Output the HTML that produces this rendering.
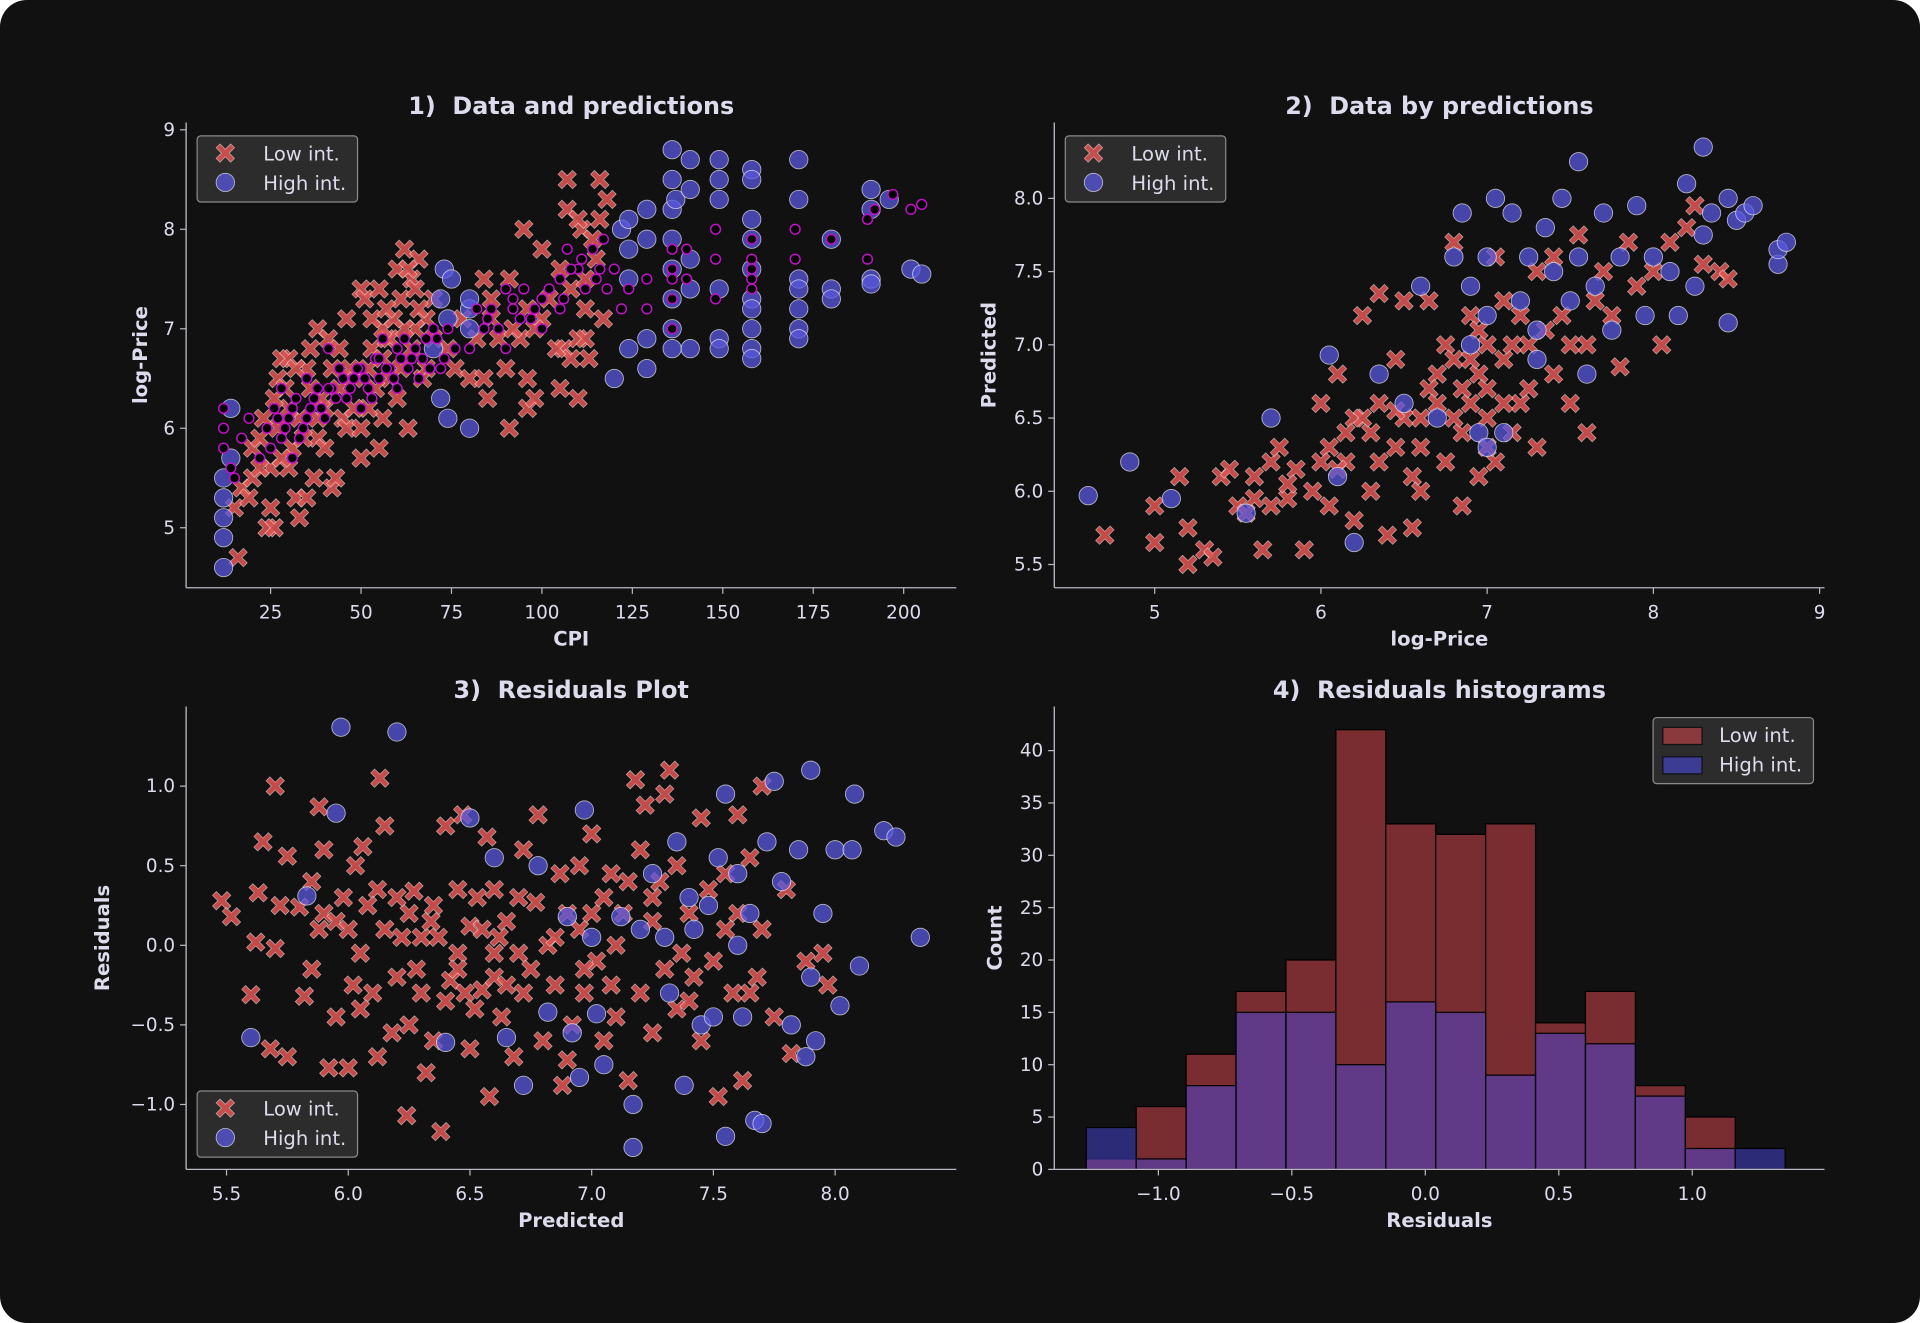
<!DOCTYPE html>
<html><head><meta charset="utf-8"><style>
html,body{margin:0;padding:0;background:#fff;}
svg{display:block;}
text{font-family:"DejaVu Sans","Liberation Sans",sans-serif;fill:#dcdcec;white-space:pre;}
</style></head><body>
<svg id="fig" width="1920" height="1323" viewBox="0 0 1568 1080.45" xmlns="http://www.w3.org/2000/svg">
<rect x="0" y="0" width="1568" height="1080.45" rx="22" fill="#111111"/>
<g id="root"></g>
</svg>
<script>
// ---------- data ----------
const p1Low=[[16,4.7],[15,5.2],[17,5.4],[20,5.5],[20,5.8],[22,5.9],[24,5.0],[26,5.0],[25,5.2],[25,5.6],[27,6.0],[27,6.5],[28,6.7],[30,6.7],[30,5.6],[32,5.3],[33,5.1],[35,5.3],[35,6.6],[36,6.8],[38,7.0],[37,5.5],[38,5.9],[40,6.2],[41,6.9],[42,5.4],[43,5.5],[44,6.4],[45,6.1],[46,7.1],[50,5.7],[50,7.4],[51,7.3],[53,6.8],[55,5.8],[55,7.4],[56,6.1],[57,6.9],[58,6.5],[60,7.6],[61,7.3],[62,7.8],[63,6.0],[64,7.5],[66,7.7],[67,6.5],[68,7.1],[70,6.9],[76,6.6],[80,6.5],[84,6.5],[85,6.3],[84,7.5],[86,7.3],[90,6.6],[91,7.5],[91,6.0],[95,8.0],[96,6.5],[96,6.2],[98,6.3],[100,7.8],[100,7.1],[105,6.4],[106,6.8],[107,8.5],[107,8.2],[108,6.7],[110,6.9],[110,6.3],[111,8.0],[112,7.2],[113,6.7],[116,8.5],[116,8.1],[117,7.1],[118,8.3],[114,7.9],[104,6.8],[112,6.9],[44,6.8],[48,6.5],[52,6.2],[58,6.9],[65,7.0],[39,6.3],[33,6.1],[29,6.4],[31,5.8],[23,6.1],[56,7.0],[61,6.6],[70,7.3],[88,6.9],[94,6.9],[102,7.3],[92,7.0],[74,6.8],[78,7.1],[28,5.7],[30,6.2],[34,5.9],[36,6.4],[40,5.8],[42,6.6],[46,6.0],[48,6.2],[52,6.6],[54,6.4],[56,6.7],[60,6.3],[62,7.0],[64,6.8],[66,7.2],[68,6.6],[63,7.6],[65,7.4],[59,7.1],[47,6.6],[26,6.3],[22,5.6],[19,5.3],[32,6.6],[38,6.1],[50,6.0],[53,7.1],[57,7.2],[105,7.6],[108,7.4],[112,7.5],[115,7.7],[98,7.0],[86,7.1],[82,6.9],[96,7.2],[110,8.1]];
const p1High=[[12,4.6],[12,4.9],[12,5.1],[12,5.3],[12,5.5],[14,5.7],[14,6.2],[72,6.3],[74,6.1],[73,7.6],[74,7.1],[72,7.3],[70,6.8],[75,7.5],[80,7.2],[80,7.0],[80,6.0],[80,7.3],[120,6.5],[122,8.0],[124,8.1],[124,7.8],[124,7.5],[124,6.8],[129,6.6],[129,6.9],[129,7.9],[129,8.2],[136,8.8],[136,8.5],[136,8.2],[136,7.9],[136,7.6],[136,7.3],[136,7.0],[136,6.8],[137,8.3],[141,8.7],[141,8.4],[141,7.7],[141,7.4],[141,6.8],[149,8.7],[149,8.5],[149,8.3],[149,7.4],[149,6.9],[149,6.8],[158,8.6],[158,8.5],[158,8.1],[158,7.9],[158,7.6],[158,7.3],[158,7.2],[158,7.0],[158,6.8],[158,6.7],[171,8.7],[171,8.3],[171,7.5],[171,7.4],[171,7.2],[171,7.0],[171,6.9],[180,7.9],[180,7.4],[180,7.3],[191,8.4],[191,8.2],[191,7.5],[191,7.45],[196,8.3],[202,7.6],[205,7.55]];
const p1Pred=[[12,5.8],[12,6.0],[12,6.2],[14,5.6],[15,5.5],[17,5.9],[19,6.1],[22,5.7],[24,6.0],[26,6.2],[28,5.9],[28,6.4],[30,6.1],[31,5.7],[32,6.3],[34,6.0],[35,6.5],[36,6.2],[38,6.4],[40,6.1],[41,6.8],[42,6.4],[44,6.6],[46,6.3],[48,6.5],[50,6.6],[50,6.2],[52,6.4],[54,6.7],[55,6.5],[56,6.9],[58,6.6],[60,6.8],[60,6.4],[62,6.9],[64,6.7],[66,6.5],[68,6.9],[70,7.0],[72,6.6],[74,7.0],[76,6.8],[80,6.8],[82,7.2],[84,7.0],[86,7.2],[90,7.4],[90,6.8],[92,7.2],[95,7.4],[97,7.1],[100,7.3],[100,7.0],[105,7.5],[105,7.2],[107,7.8],[110,7.6],[112,7.4],[114,7.8],[116,7.6],[118,7.4],[120,7.6],[122,7.2],[124,7.4],[129,7.5],[129,7.2],[136,7.6],[136,7.3],[136,7.0],[140,7.5],[140,7.8],[148,7.7],[148,7.3],[148,8.0],[158,7.9],[158,7.6],[158,7.4],[170,7.7],[170,8.0],[180,7.9],[190,8.1],[190,7.7],[192,8.2],[197,8.35],[202,8.2],[205,8.25],[25,5.8],[27,6.1],[29,6.0],[31,6.2],[33,5.9],[35,6.1],[37,6.3],[39,6.2],[41,6.4],[43,6.3],[45,6.5],[47,6.4],[49,6.6],[51,6.5],[53,6.3],[55,6.7],[57,6.6],[59,6.5],[61,6.7],[63,6.6],[65,6.8],[67,6.7],[69,6.6],[71,6.9],[73,6.7],[85,7.1],[88,7.0],[92,7.3],[94,7.1],[98,7.2],[102,7.4],[106,7.3],[108,7.6],[111,7.7],[115,7.5],[117,7.9],[136,7.5],[136,7.8],[158,7.7],[158,7.5]];
const p2Low=[[4.7,5.7],[5.0,5.9],[5.0,5.65],[5.15,6.1],[5.2,5.75],[5.2,5.5],[5.3,5.6],[5.35,5.55],[5.4,6.1],[5.45,6.15],[5.5,5.9],[5.55,5.85],[5.6,6.1],[5.65,5.6],[5.7,5.9],[5.7,6.2],[5.75,6.3],[5.8,5.95],[5.85,6.15],[5.9,5.6],[5.95,6.0],[6.0,6.6],[6.05,6.3],[6.05,5.9],[6.1,6.8],[6.15,6.2],[6.2,5.8],[6.2,6.5],[6.25,7.2],[6.3,6.4],[6.3,6.0],[6.35,6.6],[6.35,7.35],[6.4,5.7],[6.45,6.9],[6.45,6.3],[6.5,7.3],[6.55,6.1],[6.55,5.75],[6.6,6.5],[6.65,7.3],[6.7,6.8],[6.75,6.2],[6.75,7.0],[6.8,6.9],[6.8,7.7],[6.85,6.4],[6.85,5.9],[6.9,6.6],[6.9,7.2],[6.95,6.8],[7.0,6.5],[7.0,7.0],[7.05,7.6],[7.05,6.2],[7.1,6.9],[7.15,6.4],[7.2,7.2],[7.2,6.6],[7.25,7.0],[7.3,6.3],[7.3,7.5],[7.4,6.8],[7.45,7.2],[7.5,6.6],[7.55,7.75],[7.6,6.4],[7.6,7.0],[7.7,7.5],[7.75,7.2],[7.8,6.85],[7.85,7.7],[7.9,7.4],[8.0,7.5],[8.05,7.0],[8.1,7.7],[8.2,7.8],[8.25,7.95],[8.3,7.55],[8.4,7.5],[8.45,7.45],[6.6,6.0],[6.95,6.1],[7.4,7.6],[6.1,6.15],[6.25,6.5],[6.65,6.7],[7.0,6.7],[7.1,7.3],[5.6,5.95],[5.8,6.05],[6.0,6.2],[6.15,6.4],[6.35,6.2],[6.5,6.5],[6.6,6.3],[6.7,6.6],[6.8,6.5],[6.9,6.9],[7.0,6.3],[7.1,6.6],[7.15,7.0],[7.25,6.7],[7.35,7.1],[7.5,7.0],[7.65,7.3],[6.95,7.1],[6.85,6.7],[6.45,6.55]];
const p2High=[[4.6,5.97],[4.85,6.2],[5.1,5.95],[5.55,5.85],[5.7,6.5],[6.05,6.93],[6.1,6.1],[6.2,5.65],[6.35,6.8],[6.5,6.6],[6.6,7.4],[6.7,6.5],[6.8,7.6],[6.85,7.9],[6.9,7.0],[6.95,6.4],[7.0,7.6],[7.0,7.2],[7.05,8.0],[7.1,6.4],[7.15,7.9],[7.2,7.3],[7.25,7.6],[7.3,7.1],[7.3,6.9],[7.35,7.8],[7.4,7.5],[7.45,8.0],[7.5,7.3],[7.55,8.25],[7.55,7.6],[7.6,6.8],[7.65,7.4],[7.7,7.9],[7.75,7.1],[7.8,7.6],[7.9,7.95],[7.95,7.2],[8.0,7.6],[8.1,7.5],[8.15,7.2],[8.2,8.1],[8.25,7.4],[8.3,8.35],[8.3,7.75],[8.35,7.9],[8.45,8.0],[8.45,7.15],[8.5,7.85],[8.55,7.9],[8.6,7.95],[8.75,7.55],[8.75,7.65],[8.8,7.7],[7.0,6.3],[6.9,7.4]];
const p3Low=[[5.48,0.28],[5.52,0.18],[5.6,-0.31],[5.62,0.02],[5.63,0.33],[5.65,0.65],[5.68,-0.65],[5.7,1.0],[5.7,-0.02],[5.72,0.25],[5.75,0.56],[5.75,-0.7],[5.8,0.24],[5.82,-0.32],[5.85,0.4],[5.85,-0.15],[5.88,0.87],[5.9,0.6],[5.9,0.2],[5.92,-0.77],[5.95,0.15],[5.95,-0.45],[5.98,0.3],[6.0,0.1],[6.0,-0.77],[6.02,-0.25],[6.03,0.5],[6.05,-0.05],[6.06,0.62],[6.1,-0.3],[6.12,0.35],[6.12,-0.7],[6.13,1.05],[6.15,0.75],[6.15,0.1],[6.18,-0.55],[6.2,-0.2],[6.22,0.05],[6.24,-1.07],[6.25,-0.5],[6.27,0.34],[6.3,-0.3],[6.3,0.05],[6.32,-0.8],[6.34,0.15],[6.35,-0.6],[6.37,0.05],[6.38,-1.17],[6.4,0.75],[6.42,-0.22],[6.45,-0.05],[6.45,0.35],[6.47,0.82],[6.48,-0.3],[6.5,-0.65],[6.5,0.12],[6.53,0.3],[6.55,-0.28],[6.57,0.68],[6.58,-0.95],[6.6,-0.2],[6.6,0.35],[6.62,0.05],[6.63,-0.45],[6.65,-0.25],[6.68,-0.7],[6.7,0.3],[6.7,-0.05],[6.72,0.6],[6.75,-0.15],[6.77,0.27],[6.78,0.82],[6.8,-0.6],[6.82,0.0],[6.85,-0.25],[6.87,0.45],[6.88,-0.88],[6.9,0.2],[6.92,-0.5],[6.95,0.1],[6.95,0.5],[6.97,-0.3],[7.0,0.7],[7.0,0.2],[7.02,-0.1],[7.05,0.3],[7.05,-0.6],[7.08,0.45],[7.1,0.0],[7.1,-0.45],[7.13,0.2],[7.15,-0.85],[7.18,1.04],[7.2,0.6],[7.2,-0.3],[7.22,0.88],[7.25,0.15],[7.25,-0.55],[7.28,0.4],[7.3,-0.15],[7.3,0.95],[7.32,1.1],[7.35,0.5],[7.35,-0.4],[7.4,0.2],[7.42,-0.2],[7.45,0.8],[7.45,-0.6],[7.48,0.35],[7.5,-0.1],[7.52,-0.95],[7.55,0.45],[7.58,-0.3],[7.6,0.82],[7.6,0.2],[7.62,-0.85],[7.65,0.55],[7.68,-0.2],[7.7,1.0],[7.7,0.1],[7.75,-0.45],[7.8,0.35],[7.82,-0.68],[7.88,-0.1],[7.95,-0.05],[7.97,-0.25],[7.37,-0.05],[6.9,-0.72],[6.55,0.1],[6.25,0.2],[5.88,0.1],[6.08,0.25],[6.2,0.3],[6.35,0.25],[6.4,-0.35],[6.52,-0.4],[6.65,0.15],[6.72,-0.3],[6.85,0.05],[6.97,-0.15],[7.08,-0.25],[7.25,0.3],[7.4,-0.35],[7.55,0.1],[7.65,-0.3],[6.05,-0.4],[6.28,-0.15],[6.45,-0.15],[6.6,-0.05],[7.15,0.4]];
const p3High=[[5.6,-0.58],[5.83,0.31],[5.95,0.83],[5.97,1.37],[6.2,1.34],[6.4,-0.61],[6.5,0.8],[6.6,0.55],[6.65,-0.58],[6.72,-0.88],[6.78,0.5],[6.82,-0.42],[6.9,0.18],[6.92,-0.55],[6.95,-0.83],[6.97,0.85],[7.0,0.05],[7.02,-0.43],[7.05,-0.75],[7.12,0.18],[7.17,-1.0],[7.17,-1.27],[7.2,0.1],[7.25,0.45],[7.3,0.05],[7.32,-0.3],[7.35,0.65],[7.38,-0.88],[7.4,0.3],[7.42,0.1],[7.45,-0.5],[7.48,0.25],[7.5,-0.45],[7.52,0.55],[7.55,-1.2],[7.55,0.95],[7.6,0.45],[7.62,-0.45],[7.65,0.2],[7.67,-1.1],[7.7,-1.12],[7.72,0.65],[7.75,1.03],[7.78,0.4],[7.82,-0.5],[7.85,0.6],[7.88,-0.7],[7.9,1.1],[7.92,-0.6],[7.95,0.2],[8.0,0.6],[8.02,-0.38],[8.08,0.95],[8.1,-0.13],[8.2,0.72],[8.25,0.68],[8.35,0.05],[8.07,0.6],[7.9,-0.2],[7.6,0.0]];
const histEdges=[-1.27,-1.083,-0.896,-0.709,-0.522,-0.335,-0.148,0.039,0.226,0.413,0.6,0.787,0.974,1.161,1.348];
const histLow=[1,6,11,17,20,42,33,32,33,14,17,8,5,0];
const histHigh=[4,1,8,15,15,10,16,15,9,13,12,7,2,2];
const p1XTicks=[25,50,75,100,125,150,175,200], p1YTicks=[5,6,7,8,9];
const p2XTicks=[5,6,7,8,9], p2YTicks=[5.5,6.0,6.5,7.0,7.5,8.0];
const p3XTicks=[5.5,6.0,6.5,7.0,7.5,8.0], p3YTicks=[-1.0,-0.5,0.0,0.5,1.0];
const p4XTicks=[-1.0,-0.5,0.0,0.5,1.0], p4YTicks=[0,5,10,15,20,25,30,35,40];

// ---------- helpers ----------
const NS="http://www.w3.org/2000/svg";
const root=document.getElementById('root');
function mk(tag,attrs,parent){const e=document.createElementNS(NS,tag);for(const k in attrs)e.setAttribute(k,attrs[k]);(parent||root).appendChild(e);return e;}
function lin(d0,d1,r0,r1){return v=>r0+(v-d0)*(r1-r0)/(d1-d0);}
function fmt(v,dec){let s=v.toFixed(dec);if(v<0)s='\u2212'+s.slice(1);return s;}
function xPath(cx,cy,s){const a=s*0.42,b=s;return `M${cx-b},${cy-b+a}L${cx-a},${cy}L${cx-b},${cy+b-a}L${cx-b+a},${cy+b}L${cx},${cy+a}L${cx+b-a},${cy+b}L${cx+b},${cy+b-a}L${cx+a},${cy}L${cx+b},${cy-b+a}L${cx+b-a},${cy-b}L${cx},${cy-a}L${cx-b+a},${cy-b}Z`;}
const RED='rgba(220,84,82,0.88)', BLUE='rgba(88,88,222,0.75)';

function axes(g,o){
  const l=mk('line',{x1:o.L,y1:o.T,x2:o.L,y2:o.B,stroke:'#b8b8c4','stroke-width':1.1},g);
  
  const b=mk('line',{x1:o.L,y1:o.B,x2:o.R,y2:o.B,stroke:'#b8b8c4','stroke-width':1.1},g);
  
  o.xt.forEach(v=>{const x=o.sx(v);mk('line',{x1:x,y1:o.B,x2:x,y2:o.B+5,stroke:'#b8b8c4'},g);
    const t=mk('text',{x:x,y:o.B+25,'text-anchor':'middle','font-size':15},g);t.textContent=fmt(v,o.xd);
    });
  o.yt.forEach(v=>{const y=o.sy(v);mk('line',{x1:o.L-5,y1:y,x2:o.L,y2:y,stroke:'#b8b8c4'},g);
    const t=mk('text',{x:o.L-9,y:y+5,'text-anchor':'end','font-size':15},g);t.textContent=fmt(v,o.yd);
    });
  const tt=mk('text',{x:(o.L+o.R)/2,y:o.T-7,'text-anchor':'middle','font-size':19.5,'font-weight':'bold',fill:'#e4e4f4'},g);
  tt.textContent=o.title;
  const xl=mk('text',{x:(o.L+o.R)/2,y:o.B+47,'text-anchor':'middle','font-size':16,'font-weight':'bold'},g);
  xl.textContent=o.xl;
  const yl=mk('text',{x:o.ylx,y:(o.T+o.B)/2,'text-anchor':'middle','font-size':16,'font-weight':'bold',transform:`rotate(-90 ${o.ylx} ${(o.T+o.B)/2})`},g);
  yl.textContent=o.yl;
}
function scatterX(g,pts,sx,sy){pts.forEach(p=>{const e=mk('path',{d:xPath(sx(p[0]),sy(p[1]),7.5),fill:RED,stroke:'rgba(255,255,255,0.55)','stroke-width':0.6},g);
  });}
function scatterO(g,pts,sx,sy){pts.forEach(p=>{const e=mk('circle',{cx:sx(p[0]),cy:sy(p[1]),r:7.5,fill:BLUE,stroke:'rgba(255,255,255,0.65)','stroke-width':0.7},g);
  });}
function legend(g,x,y,hist){
  const box=mk('rect',{x:x,y:y,width:131,height:54,rx:3,fill:'rgba(48,48,48,0.9)',stroke:'#8a8a8a','stroke-width':1},g);
  
  if(hist){
    mk('rect',{x:x+8,y:y+8,width:32,height:14,fill:'#8a3a3c',stroke:'#111'},g);
    mk('rect',{x:x+8,y:y+32,width:32,height:14,fill:'#3c3c94',stroke:'#111'},g);
  } else {
    mk('path',{d:xPath(x+23,y+14,7.5),fill:RED,stroke:'rgba(255,255,255,0.55)','stroke-width':0.6},g);
    mk('circle',{cx:x+23,cy:y+38,r:7.5,fill:BLUE,stroke:'rgba(255,255,255,0.65)','stroke-width':0.7},g);
  }
  const t1=mk('text',{x:x+54,y:y+20,'font-size':16},g);t1.textContent='Low int.';
  
  const t2=mk('text',{x:x+54,y:y+44,'font-size':16},g);t2.textContent='High int.';
  
}

// ---------- panel 1 ----------
{const g=mk('g',{});
 const sx=lin(25,200,221,738), sy=lin(5,9,431,106);
 scatterX(g,p1Low,sx,sy);scatterO(g,p1High,sx,sy);
 p1Pred.forEach(p=>{const e=mk('circle',{cx:sx(p[0]),cy:sy(p[1]),r:4,fill:'#000',stroke:'#c012c8','stroke-width':1.2},g);
   });
 axes(g,{L:152,R:781,T:100,B:480,sx,sy,xt:p1XTicks,yt:p1YTicks,xd:0,yd:0,title:'1)  Data and predictions',xl:'CPI',yl:'log-Price',ylx:120});
 legend(g,161,111,false);}
// ---------- panel 2 ----------
{const g=mk('g',{});
 const sx=lin(5,9,943,1486), sy=lin(5.5,8.0,461,162);
 scatterX(g,p2Low,sx,sy);scatterO(g,p2High,sx,sy);
 axes(g,{L:861,R:1490,T:100,B:480,sx,sy,xt:p2XTicks,yt:p2YTicks,xd:0,yd:1,title:'2)  Data by predictions',xl:'log-Price',yl:'Predicted',ylx:813});
 legend(g,870,111,false);}
// ---------- panel 3 ----------
{const g=mk('g',{});
 const sx=lin(5.5,8.0,185,682), sy=lin(-1,1,902,642);
 scatterX(g,p3Low,sx,sy);scatterO(g,p3High,sx,sy);
 axes(g,{L:152,R:781,T:577,B:955,sx,sy,xt:p3XTicks,yt:p3YTicks,xd:1,yd:1,title:'3)  Residuals Plot',xl:'Predicted',yl:'Residuals',ylx:89});
 legend(g,161,891,false);}
// ---------- panel 4 ----------
{const g=mk('g',{});
 const sx=lin(-1,1,946,1382), sy=lin(0,40,955,613);
 histLow.forEach((c,i)=>{if(!c)return;const x0=sx(histEdges[i]),x1=sx(histEdges[i+1]);
   const r=mk('rect',{x:x0,y:sy(c),width:x1-x0,height:sy(0)-sy(c),fill:'rgb(122,45,48)',stroke:'#000','stroke-width':1},g);
   });
 histHigh.forEach((c,i)=>{if(!c)return;const x0=sx(histEdges[i]),x1=sx(histEdges[i+1]);
   const r=mk('rect',{x:x0,y:sy(c),width:x1-x0,height:sy(0)-sy(c),fill:'rgba(72,72,229,0.486)',stroke:'#000','stroke-width':1},g);
   });
 axes(g,{L:861,R:1490,T:577,B:955,sx,sy,xt:p4XTicks,yt:p4YTicks,xd:1,yd:0,title:'4)  Residuals histograms',xl:'Residuals',yl:'Count',ylx:818});
 legend(g,1350,586,true);}
</script>
</body></html>
